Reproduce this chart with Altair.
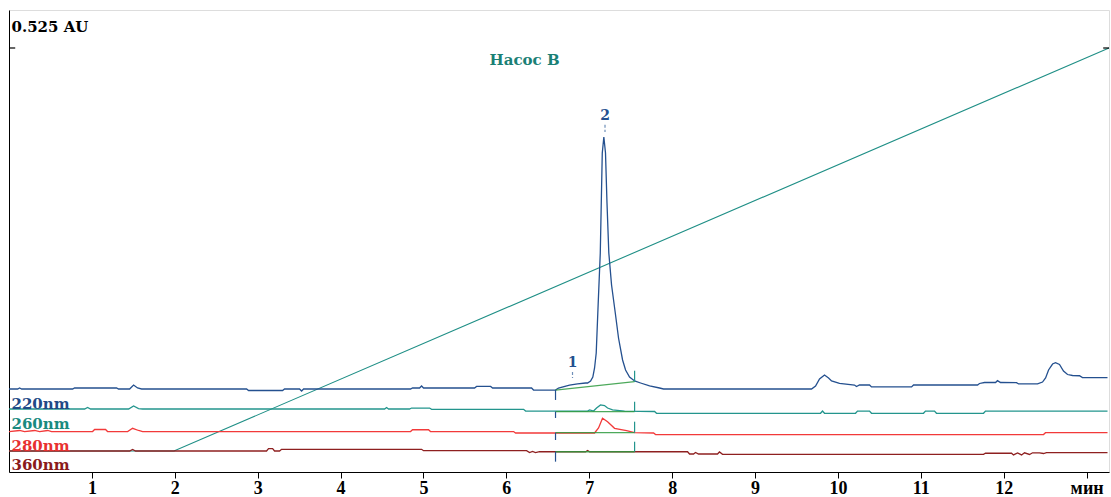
import altair as alt
import pandas as pd

# ---- data (time in min, absorbance in AU as displayed, offsets included) ----
t_220 = [0.0, 0.104, 0.128, 0.152, 0.767, 0.791, 1.298, 1.321, 1.455, 1.503, 1.551, 1.600,
         2.866, 2.890, 3.300, 3.324, 3.505, 3.530, 3.554, 4.844, 4.868, 4.953, 4.977, 5.001,
         5.616, 5.641, 5.810, 5.834, 6.304, 6.328, 6.593, 6.629, 6.762, 6.859, 6.956,
         6.980, 7.016, 7.043, 7.064, 7.084, 7.108, 7.133, 7.157, 7.176, 7.196, 7.214, 7.236,
         7.269, 7.314, 7.353, 7.402, 7.438, 7.486, 7.547, 7.619, 7.728, 7.848, 7.896,
         9.681, 9.730, 9.778, 9.838, 9.887, 9.923, 10.019, 10.200, 10.224, 10.260, 10.381,
         10.405, 10.888, 10.912, 11.684, 11.708, 11.768, 11.901, 11.925, 11.961, 12.155,
         12.179, 12.408, 12.468, 12.505, 12.541, 12.589, 12.625, 12.673, 12.721, 12.770,
         12.830, 12.914, 12.950, 13.252]
a_220 = [0.1028, 0.1028, 0.1040, 0.1028, 0.1028, 0.1040, 0.1040, 0.1028, 0.1028, 0.1077, 0.1040, 0.1028,
         0.1028, 0.1009, 0.1009, 0.1028, 0.1028, 0.1003, 0.1028, 0.1028, 0.1040, 0.1040, 0.1065, 0.1040,
         0.1040, 0.1059, 0.1059, 0.1040, 0.1040, 0.1015, 0.1015, 0.1040, 0.1077, 0.1090, 0.1102,
         0.1102, 0.1127, 0.1176, 0.1288, 0.1474, 0.2093, 0.2712, 0.3950, 0.4148, 0.3950, 0.3331, 0.2712,
         0.2315, 0.1969, 0.1659, 0.1387, 0.1263, 0.1176, 0.1127, 0.1102, 0.1065, 0.1040, 0.1028,
         0.1028, 0.1065, 0.1151, 0.1201, 0.1164, 0.1127, 0.1096, 0.1077, 0.1059, 0.1077, 0.1077,
         0.1053, 0.1053, 0.1077, 0.1077, 0.1096, 0.1108, 0.1108, 0.1131, 0.1108, 0.1106,
         0.1090, 0.1090, 0.1114, 0.1164, 0.1263, 0.1337, 0.1353, 0.1331, 0.1251, 0.1207,
         0.1195, 0.1192, 0.1168, 0.1168]

t_260 = [0.0, 0.912, 0.948, 0.984, 1.093, 1.443, 1.503, 1.563, 1.612, 4.531, 4.555, 4.579,
         4.832, 4.856, 5.074, 5.098, 6.208, 6.232, 6.980, 7.004, 7.052, 7.088, 7.136, 7.184,
         7.221, 7.281, 7.426, 7.788, 7.812, 9.790, 9.814, 9.838, 10.212, 10.236, 10.381,
         10.405, 11.032, 11.056, 11.165, 11.189, 11.756, 11.780, 13.252]
a_260 = [0.0780, 0.0780, 0.0799, 0.0780, 0.0780, 0.0780, 0.0817, 0.0786, 0.0780, 0.0780, 0.0799, 0.0780,
         0.0780, 0.0792, 0.0792, 0.0776, 0.0776, 0.0755, 0.0755, 0.0768, 0.0755, 0.0792, 0.0830, 0.0823,
         0.0792, 0.0768, 0.0755, 0.0749, 0.0727, 0.0727, 0.0755, 0.0727, 0.0727, 0.0755, 0.0755,
         0.0727, 0.0727, 0.0755, 0.0755, 0.0727, 0.0727, 0.0755, 0.0755]

t_280 = [0.0, 0.128, 0.188, 0.309, 0.369, 0.466, 0.514, 1.008, 1.033, 1.165, 1.189, 1.431,
         1.491, 1.563, 1.612, 4.844, 4.868, 5.061, 5.085, 6.087, 6.111, 7.064, 7.112, 7.160,
         7.221, 7.305, 7.450, 7.547, 7.776, 7.800, 12.480, 12.504, 13.252]
a_280 = [0.0501, 0.0514, 0.0501, 0.0514, 0.0501, 0.0514, 0.0501, 0.0501, 0.0526, 0.0526, 0.0501, 0.0501,
         0.0541, 0.0514, 0.0501, 0.0501, 0.0523, 0.0523, 0.0501, 0.0501, 0.0483, 0.0483, 0.0545, 0.0665,
         0.0623, 0.0541, 0.0511, 0.0487, 0.0483, 0.0464, 0.0464, 0.0487, 0.0487]

t_360 = [0.0, 1.455, 1.491, 1.527, 3.107, 3.131, 3.180, 3.204, 3.264, 3.288, 4.977, 5.001,
         6.244, 6.280, 6.316, 6.352, 6.400, 6.956, 6.980, 7.004, 8.186, 8.210, 8.258, 8.282,
         8.318, 8.547, 8.571, 8.608, 11.756, 11.780, 12.094, 12.118, 12.167, 12.215, 12.251,
         12.311, 12.348, 12.432, 12.480, 12.516, 13.252]
a_360 = [0.0260, 0.0260, 0.0279, 0.0260, 0.0260, 0.0289, 0.0289, 0.0260, 0.0260, 0.0281, 0.0281, 0.0264,
         0.0264, 0.0241, 0.0254, 0.0241, 0.0251, 0.0251, 0.0266, 0.0251, 0.0251, 0.0223, 0.0223, 0.0241,
         0.0223, 0.0223, 0.0248, 0.0219, 0.0219, 0.0232, 0.0232, 0.0211, 0.0235, 0.0211, 0.0238,
         0.0217, 0.0238, 0.0238, 0.0229, 0.0239, 0.0239]

# pump B gradient
t_grad = [0.0, 1.99, 13.27]
a_grad = [0.026, 0.026, 0.525]

# integration marks
t_start, t_end = 6.593, 7.547
base_start = [0.1015, 0.0747, 0.0487, 0.0251]
base_end = [0.1118, 0.0747, 0.0487, 0.0251]
drop_start_top = [0.1015, 0.0747, 0.0487, 0.0251]
drop_start_bot = [0.0892, 0.0669, 0.0396, 0.0128]
drop_end_top = [0.1254, 0.0870, 0.0623, 0.0375]
drop_end_bot = [0.1118, 0.0747, 0.0487, 0.0251]

peak_labels = ["1", "2"]
peak_t = [6.798, 7.190]
peak_a = [0.1350, 0.4408]
peak_tick_top = [0.1238, 0.4300]
peak_tick_bot = [0.1164, 0.4210]

trace_names = ["220nm", "260nm", "280nm", "360nm"]
trace_colors = ["#24508f", "#23958d", "#f23a3a", "#8e2020"]
label_colors = ["#1f4a86", "#1a8a80", "#e8302f", "#8a1a1a"]
label_a = [0.0842, 0.0594, 0.0322, 0.0087]

x_ticks = list(range(1, 14))
FONT = "Liberation Serif"
FONT2 = "DejaVu Serif"

# ---- build tables ----
rows = []
for name, ts, vs in zip(trace_names, [t_220, t_260, t_280, t_360], [a_220, a_260, a_280, a_360]):
    for i, (t, v) in enumerate(zip(ts, vs)):
        rows.append({"series": name, "t": t, "a": v, "i": i})
traces = pd.DataFrame(rows)
grad = pd.DataFrame({"t": t_grad, "a": a_grad, "i": range(len(t_grad))})

base_df = pd.DataFrame({"t": [t_start] * 4, "t2": [t_end] * 4, "a": base_start, "a2": base_end})
drops = pd.DataFrame({
    "t": [t_start] * 4 + [t_end] * 4,
    "a": drop_start_top + drop_end_top,
    "a2": drop_start_bot + drop_end_bot,
    "kind": ["s"] * 4 + ["e"] * 4,
})
peaks = pd.DataFrame({"lab": peak_labels, "t": peak_t, "a": peak_a,
                      "top": peak_tick_top, "bot": peak_tick_bot})
labels = pd.DataFrame({"lab": trace_names, "a": label_a, "t": [0.03] * 4, "c": label_colors})

x_scale = alt.Scale(domain=[0, 13.27], nice=False, zero=False)
y_scale = alt.Scale(domain=[0, 0.57205], nice=False, zero=False)

x_axis = alt.Axis(values=x_ticks, format="d", title=None, grid=False, tickSize=6, tickColor="black",
                  domainColor="black", labelFont=FONT, labelFontWeight="bold", labelFontSize=18,
                  labelColor="black", labelPadding=1,
                  labelExpr="datum.value == 13 ? 'мин' : datum.label")
y_axis = alt.Axis(title=None, grid=False, ticks=False, labels=False, domainColor="black")

X = alt.X("t:Q", scale=x_scale, axis=x_axis)
Y = alt.Y("a:Q", scale=y_scale, axis=y_axis)

trace_layer = alt.Chart(traces).mark_line(strokeWidth=1.3, interpolate="linear").encode(
    x=X, y=Y,
    color=alt.Color("series:N", scale=alt.Scale(domain=trace_names, range=trace_colors), legend=None),
    detail="series:N",
    order="i:Q",
)

grad_layer = alt.Chart(grad).mark_line(strokeWidth=1.1, color="#1f8f86").encode(
    x=alt.X("t:Q", scale=x_scale), y=alt.Y("a:Q", scale=y_scale), order="i:Q")

base_layer = alt.Chart(base_df).mark_rule(color="#2e9a3e", strokeWidth=1.3, opacity=0.85).encode(
    x=alt.X("t:Q", scale=x_scale), x2="t2:Q", y=alt.Y("a:Q", scale=y_scale), y2="a2:Q")

drop_layer = alt.Chart(drops).mark_rule(strokeWidth=1.2).encode(
    x=alt.X("t:Q", scale=x_scale), y=alt.Y("a:Q", scale=y_scale), y2="a2:Q",
    color=alt.Color("kind:N", scale=alt.Scale(domain=["s", "e"], range=["#2e9a3e", "#2d5a35"]),
                    legend=None))

peak_text = alt.Chart(peaks).mark_text(font=FONT2, fontWeight="bold", fontSize=14,
                                       color="#24508f", baseline="middle").encode(
    x=alt.X("t:Q", scale=x_scale), y=alt.Y("a:Q", scale=y_scale), text="lab:N")
peak_tick = alt.Chart(peaks).mark_rule(color="#6f8fb8", strokeWidth=1.2, strokeDash=[3, 2]).encode(
    x=alt.X("t:Q", scale=x_scale), y=alt.Y("top:Q", scale=y_scale), y2="bot:Q")

label_layer = alt.Chart(labels).mark_text(font=FONT2, fontWeight="bold", fontSize=15,
                                          align="left", baseline="middle").encode(
    x=alt.X("t:Q", scale=x_scale), y=alt.Y("a:Q", scale=y_scale), text="lab:N",
    color=alt.Color("c:N", scale=None))

au_tick = pd.DataFrame({"t": [0.0, 13.20], "t2": [0.075, 13.27], "a": [0.525, 0.525]})
au_layer = alt.Chart(au_tick).mark_rule(color="black", strokeWidth=1.2).encode(
    x=alt.X("t:Q", scale=x_scale), x2="t2:Q", y=alt.Y("a:Q", scale=y_scale))

title_df = pd.DataFrame({"lab": ["0.525 AU", "Насос B"], "t": [0.03, 6.22], "a": [0.551, 0.510]})
au_text = alt.Chart(title_df.iloc[[0]]).mark_text(font=FONT2, fontWeight="bold", fontSize=15,
                                                  align="left", baseline="middle", color="black").encode(
    x=alt.X("t:Q", scale=x_scale), y=alt.Y("a:Q", scale=y_scale), text="lab:N")
pump_text = alt.Chart(title_df.iloc[[1]]).mark_text(font=FONT2, fontWeight="bold", fontSize=15,
                                                    align="center", baseline="middle",
                                                    color="#1a8075").encode(
    x=alt.X("t:Q", scale=x_scale), y=alt.Y("a:Q", scale=y_scale), text="lab:N")

chart = alt.layer(
    grad_layer, trace_layer, base_layer, drop_layer, peak_tick, peak_text,
    label_layer, au_layer, au_text, pump_text,
).properties(
    width=1100, height=462,
    autosize=alt.AutoSizeParams(type="none"),
    padding={"left": 9, "top": 10, "right": 2, "bottom": 25},
).configure_view(stroke=None).configure(background="white")

chart.save("out.html", embed_options={"renderer": "svg", "actions": False})
